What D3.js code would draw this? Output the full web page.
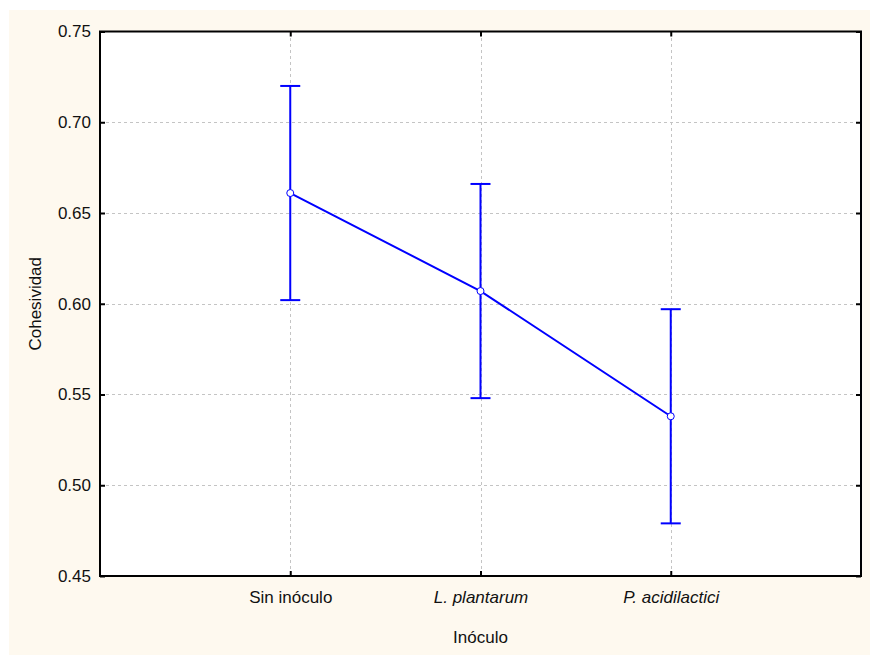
<!DOCTYPE html>
<html>
<head>
<meta charset="utf-8">
<script src="https://cdn.jsdelivr.net/npm/d3@7/dist/d3.min.js"></script>
<style>
  html, body { margin: 0; padding: 0; background: #ffffff; }
  svg { display: block; }
  text { font-family: Arial, "Liberation Sans", sans-serif; fill: #111; }
</style>
</head>
<body>
<svg id="chart" width="870" height="655"></svg>
<script>
// Group labels and summary statistics (mean with upper / lower bounds)
const categories = ["Sin inóculo", "L. plantarum", "P. acidilactici"];
const italicCategories = ["L. plantarum", "P. acidilactici"];
const means = [0.661, 0.607, 0.538];
const upper = [0.720, 0.666, 0.597];
const lower = [0.602, 0.548, 0.479];
const yTicks = [0.45, 0.50, 0.55, 0.60, 0.65, 0.70, 0.75];
const yGrid = [0.50, 0.55, 0.60, 0.65, 0.70];
const yLabel = "Cohesividad";
const xLabel = "Inóculo";

const data = categories.map((c, i) => ({ cat: c, mean: means[i], hi: upper[i], lo: lower[i] }));

const W = 870, H = 655;
const plot = { left: 100, right: 861, top: 31.5, bottom: 576 };
const blue = "#0000ff";

const svg = d3.select("#chart");

// panel background
svg.append("rect")
  .attr("x", 9).attr("y", 10)
  .attr("width", W - 9).attr("height", H - 10)
  .attr("fill", "#fef9ef");

svg.append("rect")
  .attr("x", plot.left).attr("y", plot.top)
  .attr("width", plot.right - plot.left).attr("height", plot.bottom - plot.top)
  .attr("fill", "#ffffff");

const x = d3.scalePoint()
  .domain(categories)
  .range([plot.left, plot.right])
  .padding(1);

const y = d3.scaleLinear()
  .domain([0.45, 0.75])
  .range([plot.bottom, plot.top]);

// dotted grid
const grid = svg.append("g").attr("stroke", "#c4c4c4").attr("stroke-width", 1)
  .attr("stroke-dasharray", "3,3").attr("shape-rendering", "crispEdges");
grid.selectAll("line.h").data(yGrid).join("line")
  .attr("class", "h")
  .attr("x1", plot.left).attr("x2", plot.right)
  .attr("y1", d => Math.round(y(d)) + 0.5).attr("y2", d => Math.round(y(d)) + 0.5);
grid.selectAll("line.v").data(categories).join("line")
  .attr("class", "v")
  .attr("x1", d => Math.round(x(d)) + 0.5).attr("x2", d => Math.round(x(d)) + 0.5)
  .attr("y1", plot.top).attr("y2", plot.bottom);

// axes with inward ticks
const axisStyle = g => {
  g.select(".domain").remove();
  g.selectAll(".tick line").attr("stroke", "#000").attr("stroke-width", 2);
  g.selectAll(".tick text").style("font-size", "17px").attr("fill", "#111");
};

svg.append("g")
  .attr("transform", `translate(${plot.left},0)`)
  .call(d3.axisLeft(y).tickValues(yTicks).tickFormat(d3.format(".2f")).tickSize(-5).tickPadding(9))
  .call(axisStyle);

svg.append("g")
  .attr("transform", `translate(${plot.right},0)`)
  .call(d3.axisRight(y).tickValues(yTicks).tickFormat("").tickSize(-5))
  .call(axisStyle);

svg.append("g")
  .attr("transform", `translate(0,${plot.bottom})`)
  .call(d3.axisBottom(x).tickSize(-5).tickPadding(15))
  .call(axisStyle)
  .call(g => g.selectAll(".tick text")
    .style("font-style", d => italicCategories.includes(d) ? "italic" : "normal"));

svg.append("g")
  .attr("transform", `translate(0,${plot.top})`)
  .call(d3.axisTop(x).tickFormat("").tickSize(-5))
  .call(axisStyle);

// frame
svg.append("rect")
  .attr("x", plot.left).attr("y", plot.top)
  .attr("width", plot.right - plot.left).attr("height", plot.bottom - plot.top)
  .attr("fill", "none").attr("stroke", "#000").attr("stroke-width", 2);

// error bars
const capHalf = 10;
const eb = svg.append("g").attr("stroke", blue).attr("stroke-width", 2);
eb.selectAll("line.bar").data(data).join("line")
  .attr("class", "bar")
  .attr("x1", d => x(d.cat)).attr("x2", d => x(d.cat))
  .attr("y1", d => y(d.hi)).attr("y2", d => y(d.lo));
eb.selectAll("line.capHi").data(data).join("line")
  .attr("class", "capHi")
  .attr("x1", d => x(d.cat) - capHalf).attr("x2", d => x(d.cat) + capHalf)
  .attr("y1", d => y(d.hi)).attr("y2", d => y(d.hi));
eb.selectAll("line.capLo").data(data).join("line")
  .attr("class", "capLo")
  .attr("x1", d => x(d.cat) - capHalf).attr("x2", d => x(d.cat) + capHalf)
  .attr("y1", d => y(d.lo)).attr("y2", d => y(d.lo));

// mean line and markers
svg.append("path")
  .datum(data)
  .attr("fill", "none").attr("stroke", blue).attr("stroke-width", 2)
  .attr("d", d3.line().x(d => x(d.cat)).y(d => y(d.mean)));

svg.selectAll("circle.mean").data(data).join("circle")
  .attr("class", "mean")
  .attr("cx", d => x(d.cat)).attr("cy", d => y(d.mean))
  .attr("r", 3.5)
  .attr("fill", "#fff").attr("stroke", blue).attr("stroke-width", 1);

// axis titles
svg.append("text")
  .attr("x", (plot.left + plot.right) / 2).attr("y", 643)
  .attr("text-anchor", "middle")
  .style("font-size", "17px")
  .text(xLabel);

svg.append("text")
  .attr("transform", `translate(41,${(plot.top + plot.bottom) / 2}) rotate(-90)`)
  .attr("text-anchor", "middle")
  .style("font-size", "17px")
  .text(yLabel);
</script>
</body>
</html>
